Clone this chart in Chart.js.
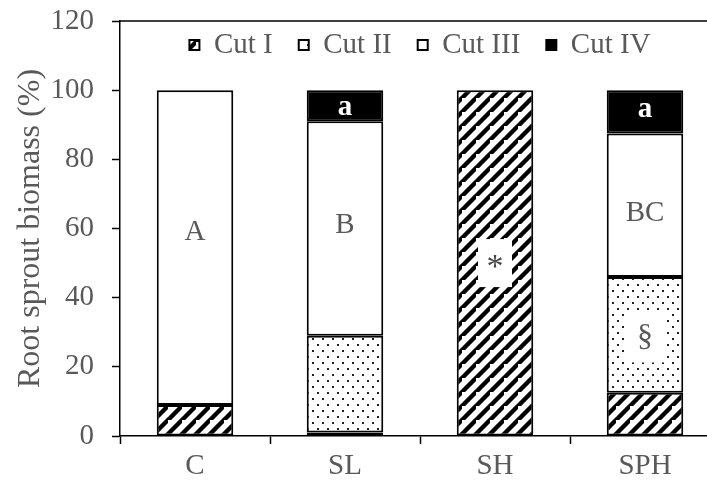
<!DOCTYPE html>
<html>
<head>
<meta charset="utf-8">
<script src="https://cdn.jsdelivr.net/npm/chart.js@4.4.1/dist/chart.umd.min.js"></script>
<style>
html,body{margin:0;padding:0;overflow:hidden;background:#fff;}
canvas{display:block;}
</style>
</head>
<body>
<canvas id="c" width="724" height="486"></canvas>
<script>
const categories = ["C", "SL", "SH", "SPH"];
const seriesNames = ["Cut I", "Cut II", "Cut III", "Cut IV"];
const cutI = [9, 1, 100, 12.5];
const cutII = [0, 28, 0, 33.5];
const cutIII = [91, 62, 0, 41.5];
const cutIV = [0, 9, 0, 12.5];
const yTicks = [0, 20, 40, 60, 80, 100, 120];
const yTitle = "Root sprout biomass (%)";
// bar annotations: category, value, text
const noteCats = ["C", "SL", "SH", "SPH", "SPH", "SL", "SPH"];
const noteVals = [59, 61, 50, 64.5, 28.5, 95, 94.5];
const noteTexts = ["A", "B", "*", "BC", "§", "a", "a"];

const SERIF = "'Liberation Serif', 'Times New Roman', serif";
const GRAY = "#595959";
const FS = 29;

function hatchPattern() {
  const s = 14;
  const c = document.createElement('canvas');
  c.width = s; c.height = s;
  const x = c.getContext('2d');
  x.fillStyle = '#fff'; x.fillRect(0, 0, s, s);
  x.strokeStyle = '#000'; x.lineWidth = 4.4;
  x.beginPath();
  x.moveTo(-s, s * 2); x.lineTo(s * 2, -s);
  x.moveTo(-s * 2, s); x.lineTo(s, -s * 2);
  x.moveTo(0, s * 2); x.lineTo(s * 2, 0);
  x.stroke();
  return x.createPattern(c, 'repeat');
}
function dotPattern() {
  const c = document.createElement('canvas');
  c.width = 10; c.height = 12;
  const x = c.getContext('2d');
  x.fillStyle = '#fff'; x.fillRect(0, 0, 10, 12);
  x.fillStyle = '#222';
  x.fillRect(2, 2, 2, 2);
  x.fillRect(7, 8, 2, 2);
  return x.createPattern(c, 'repeat');
}

const fills = [hatchPattern(), dotPattern(), '#ffffff', '#000000'];
const values = [cutI, cutII, cutIII, cutIV];

const datasets = seriesNames.map((n, i) => ({
  label: n,
  data: values[i],
  backgroundColor: fills[i],
  borderColor: '#000',
  borderWidth: 2,
  borderSkipped: false,
  barPercentage: 0.51,
  categoryPercentage: 1.0
}));

const framePlugin = {
  id: 'frame',
  afterLayout(chart) {
    const lg = chart.legend;
    if (lg) {
      lg.top = 4.5;
      lg.height = 80;
      lg.bottom = lg.top + lg.height;
    }
  },
  afterDraw(chart) {
    const a = chart.chartArea;
    const ctx = chart.ctx;
    ctx.save();
    ctx.strokeStyle = '#000';
    ctx.lineWidth = 1.5;
    ctx.beginPath();
    ctx.moveTo(a.left, a.top);
    ctx.lineTo(a.right, a.top);
    ctx.lineTo(a.right, a.bottom);
    ctx.stroke();
    ctx.restore();
  }
};

const notesPlugin = {
  id: 'notes',
  afterDatasetsDraw(chart) {
    const xs = chart.scales.x, ys = chart.scales.y, ctx = chart.ctx;
    ctx.save();
    ctx.textAlign = 'center';
    ctx.textBaseline = 'middle';
    noteTexts.forEach((t, i) => {
      const x = xs.getPixelForValue(categories.indexOf(noteCats[i]));
      const y = ys.getPixelForValue(noteVals[i]);
      if (t === '*') {
        ctx.fillStyle = '#fff';
        ctx.fillRect(x - 17, y - 24, 34, 48);
      } else if (t === '§') {
        ctx.fillStyle = '#fff';
        ctx.fillRect(x - 20, y - 25, 40, 50);
      }
      if (t === 'a') {
        ctx.font = "bold " + FS + "px " + SERIF;
        ctx.fillStyle = '#fff';
      } else if (t === '*') {
        ctx.font = "34px " + SERIF;
        ctx.fillStyle = '#444';
      } else if (t === '§') {
        ctx.font = "32px " + SERIF;
        ctx.fillStyle = GRAY;
      } else {
        ctx.font = FS + "px " + SERIF;
        ctx.fillStyle = GRAY;
      }
      ctx.fillText(t, x, t === '*' ? y + 5 : y);
    });
    ctx.restore();
  }
};

new Chart(document.getElementById('c'), {
  type: 'bar',
  data: { labels: categories, datasets },
  options: {
    responsive: false,
    animation: false,
    devicePixelRatio: 1,
    layout: { padding: { top: 20, right: 4, left: 0, bottom: 0 } },
    plugins: {
      legend: {
        position: 'top',
        fullSize: false,
        align: 'center',
        maxHeight: 1,
        labels: {
          boxWidth: 10,
          boxHeight: 10,
          padding: 26,
          color: GRAY,
          font: { family: SERIF, size: FS }
        }
      },
      tooltip: { enabled: false }
    },
    scales: {
      x: {
        stacked: true,
        afterFit(s) { s.height = 50; s.paddingLeft = 0; s.paddingRight = 0; },
        grid: {
          offset: true,
          drawOnChartArea: false,
          drawTicks: true,
          tickLength: 8,
          tickWidth: 1.5,
          color: '#000'
        },
        border: { display: true, color: '#000', width: 1.5 },
        ticks: { color: GRAY, padding: 5, font: { family: SERIF, size: FS } }
      },
      y: {
        stacked: true,
        min: 0,
        max: 120,
        afterFit(s) { s.width = 120; s.paddingTop = 0; s.paddingBottom = 0; },
        afterBuildTicks(s) { s.ticks = yTicks.map(v => ({ value: v })); },
        grid: {
          drawOnChartArea: false,
          tickLength: 8,
          tickWidth: 1.5,
          color: '#000'
        },
        border: { display: true, color: '#000', width: 1.5 },
        ticks: { color: GRAY, padding: 18, font: { family: SERIF, size: FS } },
        title: {
          display: true,
          text: yTitle,
          color: GRAY,
          padding: { top: 11, bottom: 0 },
          font: { family: SERIF, size: 32 }
        }
      }
    }
  },
  plugins: [framePlugin, notesPlugin]
});
</script>
</body>
</html>
